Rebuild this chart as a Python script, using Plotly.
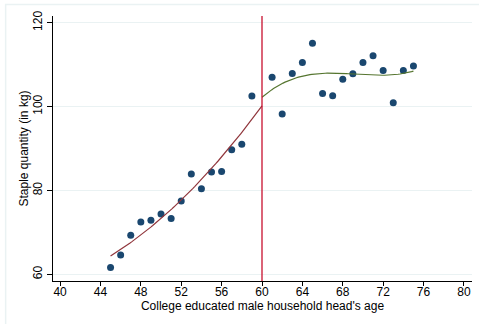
import numpy as np
import plotly.graph_objects as go

# Data
age_left = [45, 46, 47, 48, 49, 50, 51, 52, 53, 54, 55, 56, 57, 58, 59]
qty_left = [61.6, 64.6, 69.3, 72.5, 72.9, 74.4, 73.3, 77.5, 83.9, 80.4, 84.4, 84.5, 89.7, 91.0, 102.5]
age_right = [61, 62, 63, 64, 65, 66, 67, 68, 69, 70, 71, 72, 73, 74, 75]
qty_right = [107.0, 98.2, 107.9, 110.5, 115.1, 103.1, 102.6, 106.5, 107.8, 110.5, 112.1, 108.6, 100.9, 108.6, 109.7]
cutoff = 60
x_ticks = [40, 44, 48, 52, 56, 60, 64, 68, 72, 76, 80]
y_ticks = [60, 80, 100, 120]

# Fitted curves (derived from the data)
cl = np.polyfit(age_left, qty_left, 2)
xl = np.linspace(min(age_left), cutoff, 80)
yl = np.polyval(cl, xl)
cr = np.polyfit(age_right, qty_right, 3)
xr = np.linspace(cutoff, max(age_right), 80)
yr = np.polyval(cr, xr)

fig = go.Figure()
fig.add_trace(go.Scatter(x=age_left + age_right, y=qty_left + qty_right, mode="markers",
                         marker=dict(color="#1a476f", size=7), showlegend=False))
fig.add_trace(go.Scatter(x=xl, y=yl, mode="lines", line=dict(color="#90353b", width=1.2), showlegend=False))
fig.add_trace(go.Scatter(x=xr, y=yr, mode="lines", line=dict(color="#55752f", width=1.2), showlegend=False))

fig.add_shape(type="line", xref="x", yref="paper", x0=cutoff, x1=cutoff, y0=0, y1=1,
              line=dict(color="#c8102e", width=1.3))
# outer graph region border
fig.add_shape(type="rect", xref="paper", yref="paper", x0=-0.113, x1=1.05, y0=-0.25, y1=1.043,
              line=dict(color="#eaf2f3", width=1.5), layer="below")

font = dict(family="Liberation Sans, Arial, sans-serif", size=12, color="black")
fig.update_layout(
    width=479, height=324,
    margin=dict(l=53, r=7, t=16, b=43),
    paper_bgcolor="white", plot_bgcolor="white",
    font=font,
    xaxis=dict(range=[39.3, 80.8], tickvals=x_ticks, showgrid=False, zeroline=False,
               showline=True, linecolor="black", linewidth=1, ticks="outside", ticklen=4,
               tickcolor="black", ticklabelstandoff=-4,
               title=dict(text="College educated male household head's age",
                          font=dict(size=12), standoff=0)),
    yaxis=dict(range=[58.4, 121.6], tickvals=y_ticks, tickangle=-90, showgrid=True,
               gridcolor="#eaf2f3", gridwidth=1, zeroline=False,
               showline=True, linecolor="black", linewidth=1, ticks="outside", ticklen=5,
               tickcolor="black", title=dict(text="Staple quantity (in kg)", font=dict(size=12), standoff=0)),
)
fig.write_html("out.html")
